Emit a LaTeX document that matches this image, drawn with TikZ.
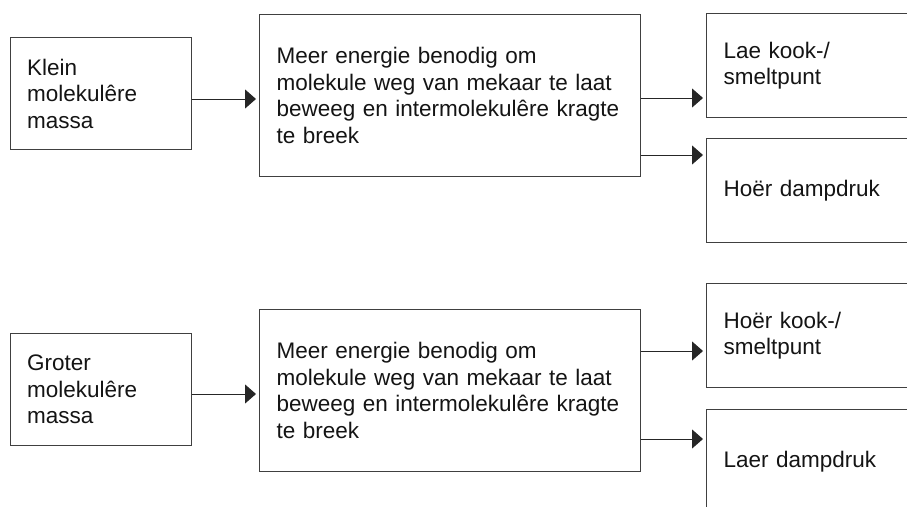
\documentclass[tikz,border=0pt]{standalone}
\usepackage{fontspec}
\setmainfont{Liberation Sans}
\usetikzlibrary{arrows.meta}

\begin{document}
\begin{tikzpicture}[x=1pt, y=-1pt,
		box/.style={draw=black!75, line width=1.1pt, anchor=north west, align=left,
						inner xsep=17pt, inner ysep=0pt, text=black!92,
						font=\fontsize{22.5}{26.5}\selectfont},
		arr/.style={-{Triangle[length=11pt, width=19pt]}, line width=1pt,
						draw=black!85, shorten >=3pt}]

		\useasboundingbox (0,0) rectangle (907,506);

		% upper row
		\node[box, text width=147.5pt, minimum height=112pt] (klein) at (9.5,37)
			{Klein\\molekulêre\\massa};
		\node[box, text width=347pt, minimum height=162pt] (energieA) at (259,14)
			{Meer energie benodig om\\molekule weg van mekaar te laat\\beweeg en intermolekulêre kragte\\te breek};
		\node[box, text width=186pt, minimum height=104pt] (kookA) at (706,13)
			{Lae kook-/\\smeltpunt};
		\node[box, text width=186pt, minimum height=104pt] (dampA) at (706,138)
			{Hoër dampdruk};
		\draw[arr] (klein.east |- 0,99) -- (energieA.west |- 0,99);
		\draw[arr] (energieA.east |- 0,98) -- (kookA.west |- 0,98);
		\draw[arr] (energieA.east |- 0,155) -- (dampA.west |- 0,155);

		% lower row
		\node[box, text width=147.5pt, minimum height=112pt] (groter) at (9.5,333)
			{Groter\\molekulêre\\massa};
		\node[box, text width=347pt, minimum height=162pt] (energieB) at (259,309)
			{Meer energie benodig om\\molekule weg van mekaar te laat\\beweeg en intermolekulêre kragte\\te breek};
		\node[box, text width=186pt, minimum height=104pt] (kookB) at (706,283)
			{Hoër kook-/\\smeltpunt};
		\node[box, text width=186pt, minimum height=104pt] (dampB) at (706,409)
			{Laer dampdruk};
		\draw[arr] (groter.east |- 0,394) -- (energieB.west |- 0,394);
		\draw[arr] (energieB.east |- 0,351) -- (kookB.west |- 0,351);
		\draw[arr] (energieB.east |- 0,439) -- (dampB.west |- 0,439);
	\end{tikzpicture}
\end{document}
